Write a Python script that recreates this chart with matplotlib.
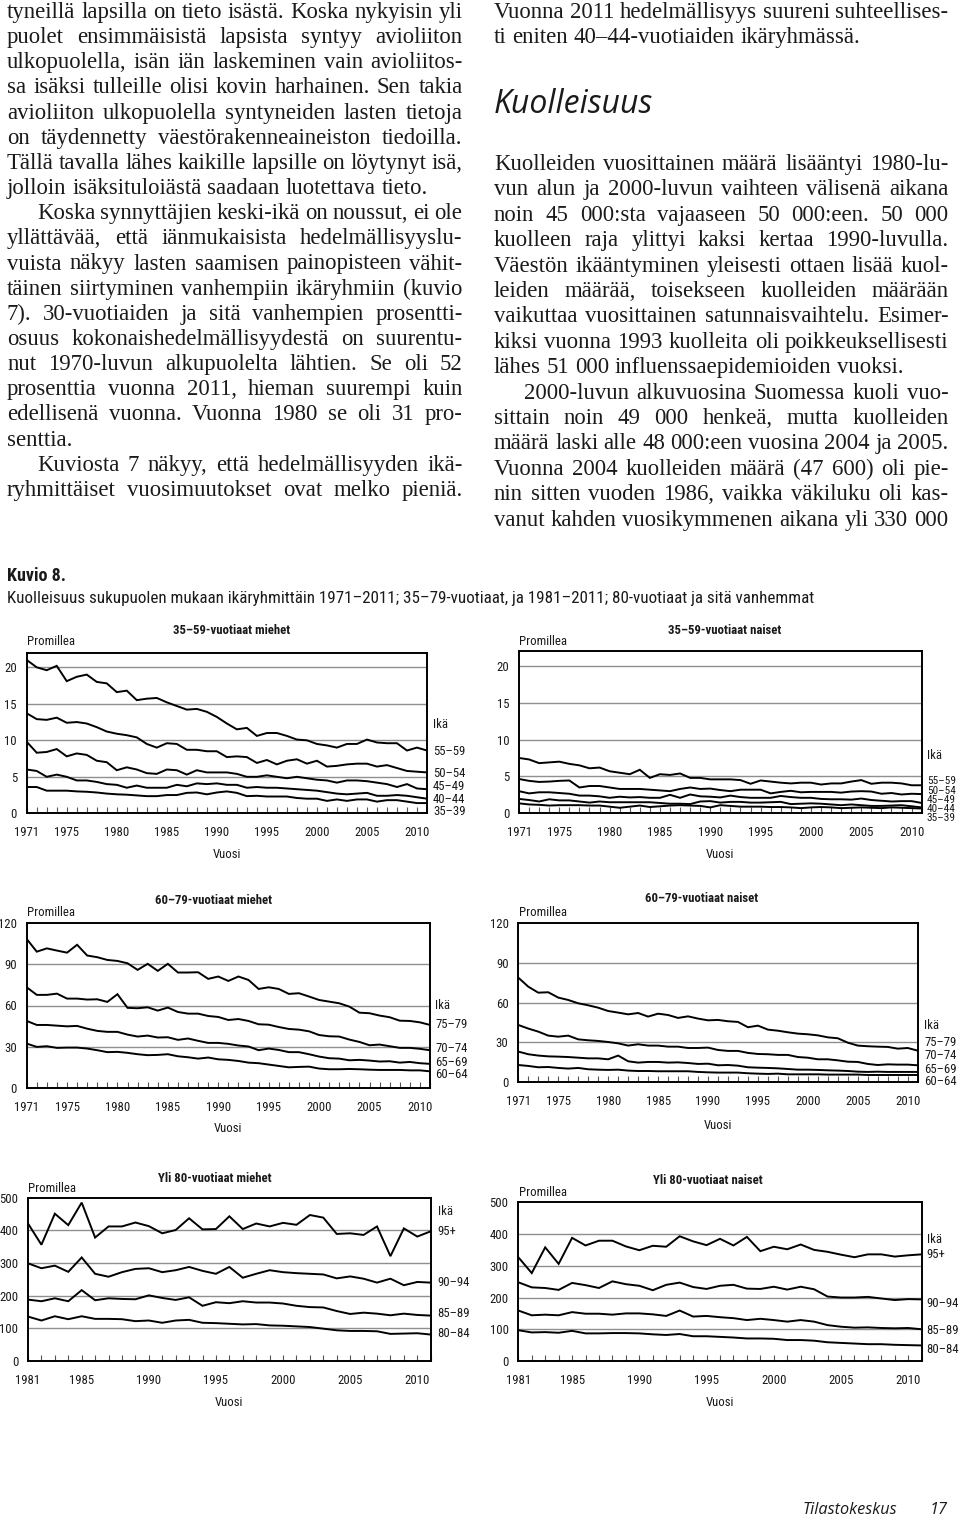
import matplotlib
matplotlib.use('Agg')
import matplotlib.pyplot as plt
from matplotlib import font_manager as fm

# ---------------- DATA ----------------
years_a = list(range(1971, 2012))
years_b = list(range(1981, 2012))

# 35-59 men (per mille)
m_55_59 = [21.0, 20.0, 19.6, 20.2, 18.1, 18.7, 19.0, 18.0, 17.8, 16.6, 16.8, 15.5, 15.7, 15.8, 15.2, 14.7, 14.2, 14.3, 13.9, 13.2,
           12.3, 11.5, 11.7, 10.6, 11.0, 11.0, 10.6, 10.1, 10.0, 9.5, 9.3, 9.0, 9.5, 9.5, 10.1, 9.7, 9.6, 9.6, 8.6, 9.0, 8.6]
m_50_54 = [13.7, 12.9, 12.8, 13.1, 12.4, 12.5, 12.3, 11.8, 11.2, 10.9, 10.7, 10.4, 9.5, 9.0, 9.6, 9.5, 8.7, 8.7, 8.5, 8.5,
           7.7, 7.8, 7.7, 6.9, 7.3, 6.7, 7.2, 7.4, 6.8, 7.2, 6.4, 6.5, 6.7, 6.8, 6.8, 6.4, 6.6, 6.2, 5.8, 5.7, 5.6]
m_45_49 = [9.8, 8.3, 8.4, 8.8, 7.8, 8.2, 8.0, 7.2, 7.0, 5.9, 6.3, 6.0, 5.5, 5.4, 6.0, 5.9, 5.3, 5.9, 5.6, 5.6,
           5.6, 5.4, 5.0, 5.0, 5.2, 5.0, 4.8, 5.0, 4.8, 4.6, 4.5, 4.2, 4.5, 4.5, 4.4, 4.2, 4.0, 3.6, 4.0, 3.4, 3.3]
m_40_44 = [6.0, 5.8, 5.0, 5.3, 5.0, 4.5, 4.5, 4.3, 4.0, 3.9, 3.5, 3.8, 3.5, 3.5, 3.5, 3.9, 3.7, 4.1, 4.0, 4.1,
           3.9, 3.9, 3.5, 3.6, 3.5, 3.5, 3.4, 3.3, 3.2, 3.1, 2.9, 2.7, 2.6, 2.7, 2.8, 2.4, 2.4, 2.5, 2.4, 2.2, 2.0]
m_35_39 = [3.6, 3.6, 3.1, 3.1, 3.1, 3.0, 2.95, 2.85, 2.7, 2.6, 2.55, 2.45, 2.35, 2.35, 2.5, 2.5, 2.8, 2.85, 2.6, 2.85,
           3.0, 2.8, 2.35, 2.4, 2.3, 2.3, 2.3, 2.1, 2.0, 2.0, 1.7, 1.9, 1.7, 1.9, 1.9, 1.6, 1.8, 1.8, 1.6, 1.4, 1.4]

# 35-59 women
f_55_59 = [7.5, 7.3, 6.8, 6.9, 7.0, 6.7, 6.5, 6.1, 6.2, 5.7, 5.5, 5.3, 5.9, 4.8, 5.3, 5.2, 5.4, 4.8, 4.8, 4.6,
           4.6, 4.6, 4.5, 4.0, 4.45, 4.3, 4.15, 4.05, 4.15, 4.15, 3.9, 4.05, 4.05, 4.3, 4.5, 4.0, 4.15, 4.15, 4.05, 3.8, 3.8]
f_50_54 = [4.65, 4.4, 4.25, 4.3, 4.4, 4.45, 3.5, 3.7, 3.7, 3.5, 3.3, 3.3, 3.3, 3.2, 3.1, 3.0, 3.3, 3.5, 3.3, 3.35,
           3.15, 3.0, 3.2, 3.2, 3.2, 2.7, 2.9, 3.05, 2.85, 2.9, 2.9, 2.9, 2.8, 2.95, 3.0, 2.95, 2.65, 2.75, 2.55, 2.65, 2.6]
f_45_49 = [3.0, 2.7, 2.85, 2.85, 2.75, 2.65, 2.4, 2.4, 2.3, 2.1, 2.25, 2.15, 2.2, 2.1, 2.1, 2.5, 2.1, 2.55, 2.3, 2.25,
           2.15, 2.4, 2.2, 2.1, 2.1, 2.1, 2.35, 2.2, 2.1, 2.1, 1.95, 1.9, 1.9, 1.85, 2.0, 1.8, 1.7, 1.6, 1.65, 1.65, 1.4]
f_40_44 = [1.95, 1.8, 1.6, 1.9, 1.75, 1.75, 1.6, 1.45, 1.6, 1.5, 1.5, 1.5, 1.5, 1.5, 1.4, 1.3, 1.3, 1.25, 1.6, 1.65,
           1.45, 1.55, 1.55, 1.45, 1.45, 1.5, 1.55, 1.25, 1.3, 1.35, 1.3, 1.2, 1.1, 1.2, 1.1, 1.0, 1.0, 1.05, 1.1, 0.95, 0.8]
f_35_39 = [1.35, 1.2, 1.15, 1.05, 1.1, 1.1, 1.1, 1.05, 1.05, 0.9, 0.75, 0.9, 1.05, 0.85, 0.95, 1.05, 1.1, 1.05, 1.0, 0.8,
           1.1, 1.0, 0.9, 0.9, 0.9, 0.85, 0.85, 0.8, 0.7, 0.8, 0.85, 0.8, 0.7, 0.75, 0.8, 0.75, 0.7, 0.8, 0.75, 0.7, 0.65]

# 60-79 men
m_75_79 = [108.2, 99.0, 101.4, 99.8, 98.3, 104.0, 96.2, 95.0, 93.0, 92.3, 90.6, 85.8, 90.2, 85.1, 90.2, 83.9, 83.9, 84.1, 79.3, 81.0,
           77.8, 81.0, 78.5, 72.0, 73.2, 72.0, 68.4, 68.9, 66.5, 64.0, 62.8, 61.6, 59.2, 54.8, 54.4, 52.7, 51.5, 49.0, 48.8, 47.8, 45.9]
m_70_74 = [73.2, 67.7, 67.7, 68.6, 65.0, 65.0, 64.3, 64.5, 62.6, 68.2, 58.3, 58.0, 58.7, 56.3, 58.5, 55.3, 54.1, 54.1, 52.4, 51.7,
           49.5, 50.2, 48.8, 46.4, 46.1, 44.4, 43.0, 42.5, 41.3, 38.6, 37.7, 37.5, 35.3, 33.6, 31.2, 31.7, 30.5, 29.3, 29.3, 28.6, 27.6]
m_65_69 = [48.8, 45.9, 45.9, 45.4, 44.9, 45.2, 43.2, 41.6, 40.9, 40.9, 38.9, 37.5, 38.2, 36.8, 37.0, 35.1, 36.1, 34.4, 32.9, 32.9,
           32.2, 31.0, 30.3, 27.6, 28.8, 27.8, 26.2, 26.2, 24.7, 23.0, 21.8, 21.5, 20.3, 20.6, 20.1, 19.4, 19.6, 18.6, 19.1, 18.2, 17.7]
m_60_64 = [32.4, 30.0, 30.5, 29.3, 29.5, 29.5, 28.8, 27.6, 26.2, 26.4, 25.7, 24.7, 24.0, 24.2, 24.7, 23.2, 22.5, 21.5, 22.3, 21.0,
           20.6, 19.8, 18.6, 18.2, 17.2, 16.2, 15.2, 15.5, 15.7, 14.3, 13.8, 13.8, 14.0, 13.8, 13.5, 13.3, 13.3, 13.3, 13.0, 13.0, 12.3]

# 60-79 women
f_75_79 = [78.7, 71.9, 67.4, 67.7, 63.7, 61.9, 59.4, 57.9, 56.1, 53.6, 52.4, 51.1, 52.1, 49.4, 51.6, 50.6, 48.4, 49.6, 47.9, 46.6,
           46.9, 45.9, 45.4, 41.4, 42.6, 39.6, 38.8, 37.6, 36.6, 36.1, 35.3, 33.8, 33.1, 29.8, 27.6, 27.1, 26.8, 26.6, 25.3, 25.8, 23.8]
f_70_74 = [43.1, 40.4, 38.1, 35.1, 34.3, 35.1, 32.3, 31.6, 31.1, 30.3, 29.3, 27.6, 28.6, 27.6, 27.6, 26.8, 26.8, 25.8, 25.8, 26.1,
           24.3, 23.6, 23.6, 22.1, 21.3, 21.1, 20.6, 20.6, 19.0, 18.5, 17.3, 17.3, 16.5, 15.5, 15.3, 13.8, 13.0, 13.5, 13.3, 13.3, 12.8]
f_65_69 = [23.1, 21.1, 20.1, 19.5, 19.3, 19.0, 18.5, 18.0, 18.0, 17.3, 20.1, 15.8, 14.8, 15.3, 15.3, 14.8, 15.0, 14.5, 13.8, 14.0,
           12.8, 13.0, 12.5, 11.3, 11.0, 10.8, 10.5, 10.0, 9.5, 9.5, 9.3, 9.0, 8.8, 8.5, 8.0, 7.8, 8.0, 7.8, 7.8, 7.8, 7.8]
f_60_64 = [13.0, 12.3, 11.3, 11.5, 10.8, 10.3, 10.8, 9.8, 9.5, 9.3, 9.5, 8.8, 8.5, 8.5, 8.3, 8.3, 8.3, 8.3, 7.8, 7.5,
           7.3, 7.3, 7.3, 6.8, 6.5, 6.3, 6.5, 6.0, 6.0, 6.0, 6.0, 5.8, 5.8, 5.8, 5.8, 5.5, 5.5, 5.5, 5.5, 5.5, 5.5]

# 80+ men (1981-2011)
m_95p = [421, 356, 451, 416, 485, 378, 412, 412, 424, 413, 391, 401, 437, 403, 404, 443, 404, 421, 412, 423,
         417, 447, 439, 389, 391, 386, 412, 321, 406, 381, 397]
m_90_94 = [299, 284, 292, 273, 317, 267, 258, 272, 282, 284, 272, 278, 288, 276, 267, 288, 255, 267, 278, 272,
           269, 267, 265, 253, 259, 252, 240, 252, 232, 242, 240]
m_85_89 = [188, 183, 192, 183, 217, 186, 192, 190, 189, 201, 193, 187, 195, 169, 180, 177, 183, 179, 179, 176,
           169, 165, 164, 153, 144, 148, 145, 140, 145, 141, 139]
m_80_84 = [136, 124, 137, 128, 137, 129, 129, 128, 122, 124, 117, 124, 126, 117, 116, 114, 112, 113, 109, 108,
           106, 104, 99, 94, 92, 92, 91, 83, 84, 85, 81]

# 80+ women (1981-2011)
f_95p = [327, 277, 358, 306, 388, 364, 379, 379, 361, 349, 363, 360, 393, 377, 365, 385, 364, 391, 346, 360,
         352, 367, 350, 344, 335, 327, 336, 336, 329, 333, 336]
f_90_94 = [248, 232, 230, 224, 246, 239, 230, 251, 242, 237, 223, 240, 247, 233, 227, 237, 240, 228, 227, 234,
           225, 234, 226, 203, 200, 200, 202, 197, 192, 195, 194]
f_85_89 = [159, 144, 146, 144, 154, 149, 149, 146, 150, 150, 147, 142, 159, 140, 142, 138, 135, 129, 133, 129,
           124, 129, 124, 113, 108, 105, 106, 104, 103, 104, 100]
f_80_84 = [97, 90, 91, 89, 95, 87, 87, 88, 88, 87, 84, 82, 85, 78, 78, 76, 74, 71, 71, 70,
           66, 66, 64, 59, 57, 55, 53, 53, 51, 50, 49]

ages_young = ['55–59', '50–54', '45–49', '40–44', '35–39']
ages_mid = ['75–79', '70–74', '65–69', '60–64']
ages_old = ['95+', '90–94', '85–89', '80–84']
xlabels_a = [1971, 1975, 1980, 1985, 1990, 1995, 2000, 2005, 2010]
xlabels_b = [1981, 1985, 1990, 1995, 2000, 2005, 2010]

left_col = [
    ("tyneillä lapsilla on tieto isästä. Koska nykyisin yli", True, 0),
    ("puolet ensimmäisistä lapsista syntyy avioliiton", True, 0),
    ("ulkopuolella, isän iän laskeminen vain avioliitos-", True, 0),
    ("sa isäksi tulleille olisi kovin harhainen. Sen takia", True, 0),
    ("avioliiton ulkopuolella syntyneiden lasten tietoja", True, 0),
    ("on täydennetty väestörakenneaineiston tiedoilla.", True, 0),
    ("Tällä tavalla lähes kaikille lapsille on löytynyt isä,", True, 0),
    ("jolloin isäksituloiästä saadaan luotettava tieto.", False, 0),
    ("Koska synnyttäjien keski-ikä on noussut, ei ole", True, 1),
    ("yllättävää, että iänmukaisista hedelmällisyyslu-", True, 0),
    ("vuista näkyy lasten saamisen painopisteen vähit-", True, 0),
    ("täinen siirtyminen vanhempiin ikäryhmiin (kuvio", True, 0),
    ("7). 30-vuotiaiden ja sitä vanhempien prosentti-", True, 0),
    ("osuus kokonaishedelmällisyydestä on suurentu-", True, 0),
    ("nut 1970-luvun alkupuolelta lähtien. Se oli 52", True, 0),
    ("prosenttia vuonna 2011, hieman suurempi kuin", True, 0),
    ("edellisenä vuonna. Vuonna 1980 se oli 31 pro-", True, 0),
    ("senttia.", False, 0),
    ("Kuviosta 7 näkyy, että hedelmällisyyden ikä-", True, 1),
    ("ryhmittäiset vuosimuutokset ovat melko pieniä.", True, 0),
]
right_top = [
    ("Vuonna 2011 hedelmällisyys suureni suhteellises-", True, 0),
    ("ti eniten 40–44-vuotiaiden ikäryhmässä.", False, 0),
]
right_col = [
    ("Kuolleiden vuosittainen määrä lisääntyi 1980-lu-", True, 0),
    ("vun alun ja 2000-luvun vaihteen välisenä aikana", True, 0),
    ("noin 45 000:sta vajaaseen 50 000:een. 50 000", True, 0),
    ("kuolleen raja ylittyi kaksi kertaa 1990-luvulla.", True, 0),
    ("Väestön ikääntyminen yleisesti ottaen lisää kuol-", True, 0),
    ("leiden määrää, toisekseen kuolleiden määrään", True, 0),
    ("vaikuttaa vuosittainen satunnaisvaihtelu. Esimer-", True, 0),
    ("kiksi vuonna 1993 kuolleita oli poikkeuksellisesti", True, 0),
    ("lähes 51 000 influenssaepidemioiden vuoksi.", False, 0),
    ("2000-luvun alkuvuosina Suomessa kuoli vuo-", True, 1),
    ("sittain noin 49 000 henkeä, mutta kuolleiden", True, 0),
    ("määrä laski alle 48 000:een vuosina 2004 ja 2005.", True, 0),
    ("Vuonna 2004 kuolleiden määrä (47 600) oli pie-", True, 0),
    ("nin sitten vuoden 1986, vaikka väkiluku oli kas-", True, 0),
    ("vanut kahden vuosikymmenen aikana yli 330 000", True, 0),
]

# ---------------- SETUP ----------------
W, H = 960, 1516
fig = plt.figure(figsize=(W / 100, H / 100), dpi=100)
fig.patch.set_facecolor('white')
renderer = fig.canvas.get_renderer()
names = {f.name for f in fm.fontManager.ttflist}


def pick(cands):
    for c in cands:
        if c in names:
            return c
    return 'DejaVu Sans'


SERIF = pick(['Liberation Serif', 'DejaVu Serif'])
COND = pick(['Liberation Sans Narrow', 'Roboto Condensed', 'Open Sans Condensed', 'Roboto', 'Liberation Sans'])
HUM = pick(['Open Sans', 'Noto Sans', 'Lato', 'DejaVu Sans'])
narrow = COND in ('Liberation Sans Narrow', 'Roboto Condensed', 'Open Sans Condensed')
CFS = 9.2 if narrow else 8.0
TXT = '#1a1a1a'


def X(px):
    return px / W


def Y(py):
    return 1 - py / H


def tw(s, **kw):
    t = fig.text(0, 0, s, **kw)
    w = t.get_window_extent(renderer).width
    t.remove()
    return w


def fit_size(s, target, base=14.0, **kw):
    return base * target / tw(s, fontsize=base, **kw)


# ---------------- BODY TEXT ----------------
base = 15.0
cal1 = fit_size("jolloin isäksituloiästä saadaan luotettava tieto.", 420, base, family=SERIF)
cal2 = fit_size("lähes 51 000 influenssaepidemioiden vuoksi.", 413, base, family=SERIF)
fs = (cal1 + cal2) / 2
sp0 = tw("a a", fontsize=base, family=SERIF) - tw("aa", fontsize=base, family=SERIF)
worst = 0
for lines, L in ((left_col, 455), (right_top, 454), (right_col, 454)):
    for s, j, ind in lines:
        ws = s.split(' ')
        nat = sum(tw(w, fontsize=base, family=SERIF) for w in ws) + (len(ws) - 1) * sp0 * 0.55
        worst = max(worst, nat / (L - ind * 30))
fs = min(fs, base / worst)
space = tw("a a", fontsize=fs, family=SERIF) - tw("aa", fontsize=fs, family=SERIF)


def draw_lines(lines, x0, x1, y0, dy):
    for i, (s, just, ind) in enumerate(lines):
        xs = x0 + ind * 30
        ws = s.split(' ')
        wid = [tw(w, fontsize=fs, family=SERIF) for w in ws]
        if just and len(ws) > 1:
            gap = (x1 - xs - sum(wid)) / (len(ws) - 1)
        else:
            gap = space
        x = xs
        for w, ww in zip(ws, wid):
            fig.text(X(x), Y(y0 + i * dy), w, fontsize=fs, family=SERIF, color=TXT, va='baseline', ha='left')
            x += ww + gap


draw_lines(left_col, 7, 462.5, 18, 25.15)
draw_lines(right_top, 494, 948.5, 18, 25.0)
draw_lines(right_col, 494, 948.5, 170, 25.4)

hs = fit_size("Kuolleisuus", 159, 20, family=HUM, style='italic')
fig.text(X(494), Y(113), "Kuolleisuus", fontsize=hs, family=HUM, style='italic', color=TXT, va='baseline')

# caption
fig.text(X(7), Y(581), "Kuvio 8.", fontsize=13.0, family=COND, weight='bold', color=TXT, va='baseline')
cap = "Kuolleisuus sukupuolen mukaan ikäryhmittäin 1971–2011; 35–79-vuotiaat, ja 1981–2011; 80-vuotiaat ja sitä vanhemmat"
cs = fit_size(cap, 801, 12, family=COND)
fig.text(X(7), Y(603), cap, fontsize=cs, family=COND, color=TXT, va='baseline')

# footer
fs_f = fit_size("Tilastokeskus", 94, 12, family=HUM, style='italic')
fig.text(X(803), Y(1514), "Tilastokeskus", fontsize=fs_f, family=HUM, style='italic', color=TXT, va='baseline')
fig.text(X(930), Y(1514), "17", fontsize=fs_f, family=HUM, style='italic', color=TXT, va='baseline')


# ---------------- CHARTS ----------------
def chart(rect, years, ylim, yticks, grid, xlabs, series, labels, lab_y, lab_dx, ika_y,
          title, title_xy, prom_xy, vuosi_xy, lab_fs=None):
    l, t, r, b = rect
    lab_fs = lab_fs or CFS
    ax = fig.add_axes([X(l), Y(b), (r - l) / W, (b - t) / H])
    for g in grid:
        ax.axhline(g, color='#8f8f8f', lw=1.0, zorder=1)
    for s in series:
        ax.plot(years, s, color='black', lw=1.4, zorder=3, solid_joinstyle='miter')
    ax.set_xlim(years[0], years[-1])
    ax.set_ylim(*ylim)
    ax.set_xticks(years)
    ax.set_xticklabels([str(y) if y in xlabs else '' for y in years])
    ax.set_yticks(yticks)
    ax.set_yticklabels([str(v) for v in yticks])
    ax.tick_params(axis='x', direction='in', length=4, width=0.8, color='#555555', pad=9,
                   labelsize=CFS, labelcolor=TXT)
    ax.tick_params(axis='y', length=0, pad=7, labelsize=CFS, labelcolor=TXT)
    for lab in ax.get_xticklabels() + ax.get_yticklabels():
        lab.set_family(COND)
    for sp in ax.spines.values():
        sp.set_linewidth(1.4)
        sp.set_color('black')
        sp.set_zorder(4)
    tr = ax.get_yaxis_transform()
    xo = 1 + lab_dx / (r - l)
    ax.text(xo, ika_y, 'Ikä', transform=tr, fontsize=CFS, family=COND, color=TXT,
            va='center', ha='left', clip_on=False)
    for lab, yv in zip(labels, lab_y):
        ax.text(xo, yv, lab, transform=tr, fontsize=lab_fs, family=COND, color=TXT,
                va='center', ha='left', clip_on=False)
    fig.text(X(title_xy[0]), Y(title_xy[1]), title, fontsize=CFS, family=COND, weight='bold',
             color=TXT, ha='center', va='center')
    fig.text(X(prom_xy[0]), Y(prom_xy[1]), 'Promillea', fontsize=CFS, family=COND, color=TXT,
             ha='left', va='center')
    fig.text(X(vuosi_xy[0]), Y(vuosi_xy[1]), 'Vuosi', fontsize=CFS, family=COND, color=TXT,
             ha='center', va='center')
    return ax


chart((26.7, 652.7, 427, 813.3), years_a, (0, 22), [0, 5, 10, 15, 20], [5, 10, 15, 20], xlabels_a,
      [m_55_59, m_50_54, m_45_49, m_40_44, m_35_39], ages_young, [8.5, 5.45, 3.73, 1.9, 0.23], 6, 12.1,
      '35–59-vuotiaat miehet', (231.5, 631), (27, 642), (227, 855))
chart((519, 651, 921.7, 813.3), years_a, (0, 22), [0, 5, 10, 15, 20], [5, 10, 15, 20], xlabels_a,
      [f_55_59, f_50_54, f_45_49, f_40_44, f_35_39], ages_young, [4.4, 3.05, 1.8, 0.6, -0.68], 5, 7.9,
      '35–59-vuotiaat naiset', (724.5, 631), (519, 642), (720, 855), lab_fs=CFS * 0.88)
chart((26.7, 922.7, 430, 1088.3), years_a, (0, 120), [0, 30, 60, 90, 120], [30, 60, 90], xlabels_a,
      [m_75_79, m_70_74, m_65_69, m_60_64], ages_mid, [45.9, 28.5, 18.6, 10.1], 5, 59.7,
      '60–79-vuotiaat miehet', (214, 901), (27, 913), (228, 1129))
chart((518.3, 922.7, 917.7, 1082.3), years_a, (0, 120), [0, 30, 60, 90, 120], [30, 60, 90], xlabels_a,
      [f_75_79, f_70_74, f_65_69, f_60_64], ages_mid, [30.1, 19.8, 9.3, 0.25], 6.6, 42.6,
      '60–79-vuotiaat naiset', (702, 898), (519, 913), (717.7, 1125.7))
chart((28, 1197.7, 430.7, 1361), years_b, (0, 500), [0, 100, 200, 300, 400, 500], [100, 200, 300, 400], xlabels_b,
      [m_95p, m_90_94, m_85_89, m_80_84], ages_old, [396, 240, 146, 85], 7, 457,
      'Yli 80-vuotiaat miehet', (215, 1178), (28, 1188), (229, 1403))
chart((518.3, 1202.3, 921.7, 1361), years_b, (0, 500), [0, 100, 200, 300, 400, 500], [100, 200, 300, 400], xlabels_b,
      [f_95p, f_90_94, f_85_89, f_80_84], ages_old, [334, 180, 96, 35], 5, 384,
      'Yli 80-vuotiaat naiset', (707.5, 1180.7), (519, 1193), (720, 1403))

fig.savefig('out.png', dpi=100, facecolor='white')
